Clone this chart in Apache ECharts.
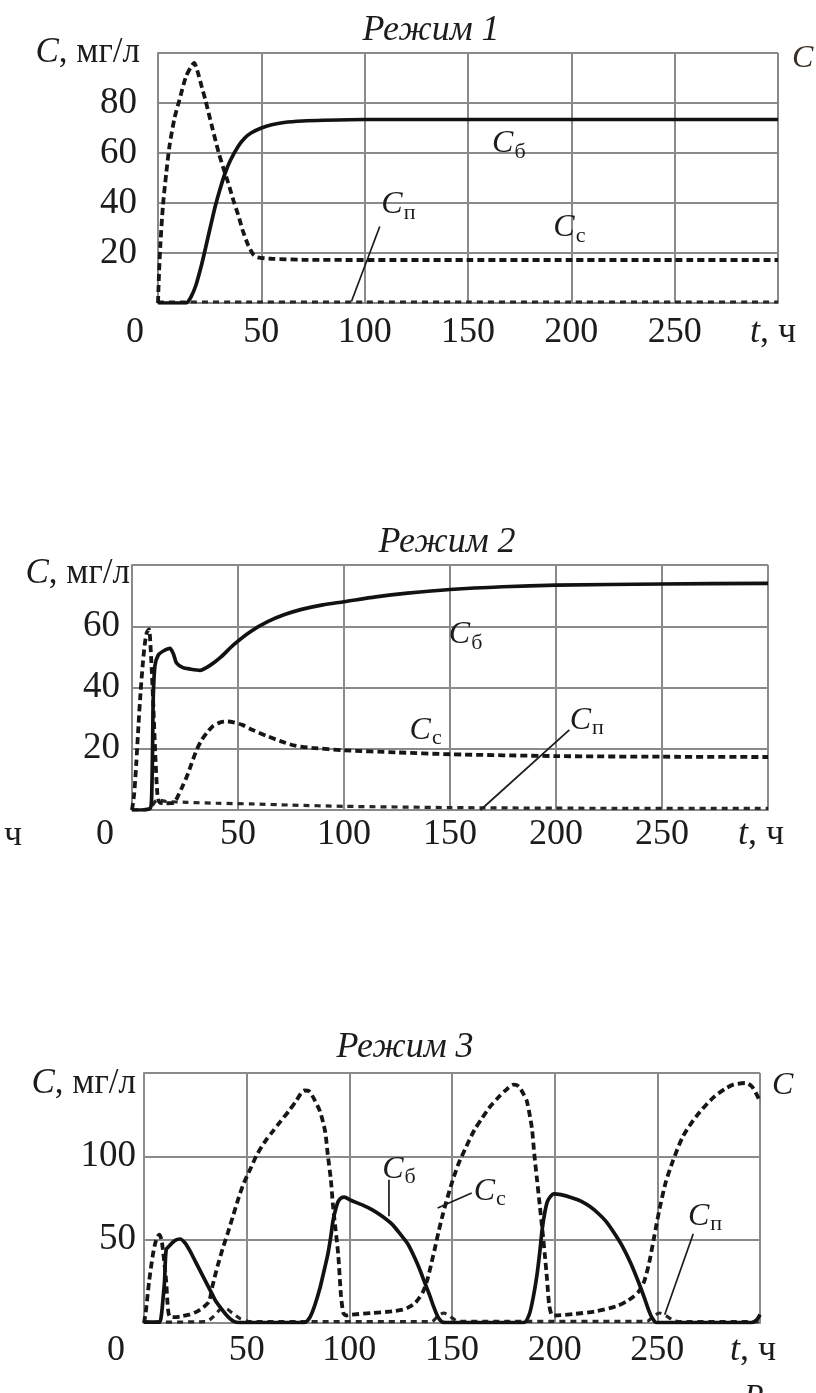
<!DOCTYPE html>
<html><head><meta charset="utf-8">
<script src="https://cdn.jsdelivr.net/npm/echarts@6/dist/echarts.min.js"></script>
<style>html,body{margin:0;padding:0;background:#fff}#c{width:816px;height:1393px}</style>
</head><body><div id="c"></div>
<script>
// ---------- text / ticks ----------
const titles = ['Режим 1', 'Режим 2', 'Режим 3'];
const xTicks = [0, 50, 100, 150, 200, 250, 300];
const xEndLabel = ['t', ', ч'];
const yUnitLabel = ['C', ', мг/л'];
const yMaxes = [100, 80, 150];
const ySteps = [20, 20, 50];
const subB = 'б', subC = 'с', subP = 'п';

// ---------- Режим 1 ----------
const mode1Cb = [[0,0],[13.5,0],[16,2.5],[18.3,7],[21,15],[23,22],[25.5,31],[27.8,39],[30,45.5],[32.5,52],[35,57],[38.9,62.8],[42,66],[45,68],[50,70],[55,71.3],[61,72.2],[70,72.8],[80,73.1],[100,73.4],[150,73.4],[200,73.4],[250,73.4],[300,73.4]];
const mode1Cc = [[0,0],[0.5,12],[1.2,24],[2.4,39],[4,52],[5.6,63],[8,74],[10.3,81],[13.5,90.5],[16,94.5],[17.5,96],[19,93],[21,87],[23,81],[26,71],[29.4,60],[32,53],[34,48],[36.5,41],[38.9,35],[41,29],[43.7,23],[46,19.5],[48,18.3],[55,17.7],[70,17.3],[100,17.2],[150,17.2],[200,17.2],[250,17.2],[300,17.2]];
const mode1Cp = [[0,0.4],[50,0.4],[100,0.4],[150,0.4],[200,0.4],[250,0.4],[300,0.4]];

// ---------- Режим 2 ----------
const mode2Cb = [[0,0],[4.5,0],[8.5,0.5],[9.2,3],[9.7,20],[10,36],[10.8,47],[12.4,50.6],[15,52],[17.9,52.8],[19.5,51],[21,48],[24,46.5],[27.5,46],[32,45.6],[37,47.3],[42,50],[48,54],[56,58.3],[64,61.5],[72,63.8],[80,65.5],[90,67],[100,68],[115,69.6],[130,70.8],[150,72],[175,72.9],[200,73.4],[250,73.8],[300,74]];
const mode2Cc = [[0,0],[1,5],[2,15],[3,27],[4,38],[5,47],[6,54],[7,58],[8,59],[9,50],[10,35],[11,18],[12,5],[13,2.5],[16,2.2],[19.5,2.3],[22,5],[24,8],[25.9,11],[28,15],[30.6,19.8],[33,23],[35.4,25.3],[38,27.3],[41.7,28.6],[45,28.9],[48,28.6],[52,27.8],[56,26.4],[63.5,24.2],[70,22.5],[77,21],[85,20.3],[100,19.5],[125,18.8],[150,18.2],[200,17.6],[250,17.4],[300,17.3]];
const mode2Cp = [[0,0],[8,0.3],[12,3.3],[16,2.8],[26,2.5],[40,2.2],[56,2],[75,1.6],[100,1.2],[150,0.8],[200,0.6],[300,0.5]];

// ---------- Режим 3 ----------
const mode3Cb = [[0,0.5],[7.5,0.5],[8.5,5],[9.3,15],[10,25],[10.8,44],[12.5,46.5],[15,49.4],[17.5,50.4],[20,48],[22.5,43],[25,37],[27.5,31],[30,25],[32.5,19],[35,13],[38,8],[40,5],[42,2.5],[44,0.8],[46,0.3],[60,0.3],[78,0.3],[80.6,3],[83,10],[85.7,21],[88,33],[89.5,41],[91,52],[92,61],[93.5,69],[94.6,73],[96,75],[97.5,75.5],[101,73.5],[106,71],[111,68],[116,64],[121,59],[125,53],[128.7,47],[131.5,40],[134,33],[136.5,25],[139,17],[141,10],[143,4],[145,0.8],[147,0.3],[170,0.3],[185,0.3],[187.6,5],[189.5,15],[191.4,29],[192.7,42],[194,57],[195.3,67],[196.5,73],[198,76],[199.5,77.5],[203,77],[208.7,75],[213,73],[217,70],[221,66],[225,61],[229,54],[233,46],[237,36],[241,24],[244,14],[246,7],[247.5,3],[249.5,0.3],[270,0.3],[296,0.3],[298.5,2],[300,5]];
const mode3Cc = [[0,0],[0.8,6],[2.5,25],[4.2,40],[5.5,48],[6.7,52],[7.5,53],[8.5,50],[9.2,44],[10,35],[10.8,25],[11.7,8],[12.5,4],[15,3.5],[18,4],[22,5],[26,7],[29,9.5],[31.7,13],[33.3,22],[35.8,34],[38.3,44.6],[40.8,54],[43.3,64],[45.8,74],[48.3,83],[52,93],[55,101],[59,109],[62.7,115],[66.5,121],[70.4,127],[74,133],[78,139.5],[80.5,139],[83,134],[85.7,127],[88.2,115],[89.5,101],[91,86],[92,71],[93.3,56],[94.6,41],[95.9,17],[97.1,6],[98.5,4.5],[101,5],[111,6],[121,7],[126,8],[129,9.5],[132,12],[134,15],[136,19],[138,26],[140,36],[141.7,45],[143.5,55],[145.5,65],[149.4,82],[153,95],[157,106],[161,116],[164.7,123],[168,129],[172.3,135],[176,139.5],[180,143],[182.5,142],[185,137],[186.5,133],[188.9,117],[190.1,101],[191.4,86],[192.7,71],[194,56],[195.2,41],[196.3,26],[197.3,11],[198.5,5],[200,4.5],[210,5.5],[220,7],[230,10],[235,13],[238,15.5],[241,19],[243.6,25],[246,36],[248.5,52],[251,68],[254,84],[257.5,97],[262.5,112],[269,124],[277,135],[283,140.5],[287,143],[293,144],[296,142],[298,138],[300,133]];
const mode3Cp = [[0,0.5],[30,0.8],[34,4],[37,8],[40,8.5],[43,6],[47,2.5],[52,0.8],[140,0.8],[143,4],[146,6],[149,4],[153,1],[245,1],[248,4],[251,6],[254,4.5],[258,1.5],[262,0.8],[300,0.8]];

// ---------- annotations (data coordinates) ----------
const mode1Notes = [[subB, 172, 63.7], [subP, 118.4, 39.3], [subC, 201.6, 30.1]];
const mode1Leaders = [[107.3, 30.6, 93.6, 0.6]];
const mode2Notes = [[subB, 159.5, 57.2], [subC, 141, 25.9], [subP, 216.5, 29.2]];
const mode2Leaders = [[206.3, 26.2, 164.4, 0]];
const mode3Notes = [[subB, 126.4, 92], [subC, 171, 78.8], [subP, 275.3, 63.8]];
const mode3Leaders = [[119.3, 86, 119.3, 64], [159.6, 78, 143, 69], [267.5, 53.5, 253.6, 5]];

// ---------- layout ----------
const FONT = '"Liberation Serif", "Times New Roman", serif';
const INK = '#1c1c1c';
const GRIDC = '#8a8a8a';
const grids = [
  {left: 158, top: 53, width: 620, height: 250},
  {left: 132, top: 565, width: 636, height: 245},
  {left: 144, top: 1073, width: 616, height: 250}
];
const xLabelCfg = [
  {margin: 12, zeroPad: 46, endPad: 10},
  {margin: 7, zeroPad: 54, endPad: 14},
  {margin: 10, zeroPad: 56, endPad: 14}
];
const yLabelCfg = [
  {margin: 18, numPad: 3, unitShift: 0},
  {margin: 2, numPad: 10, unitShift: 18},
  {margin: 8, numPad: 0, unitShift: 22}
];
const titlePos = [[431, 31], [447, 543], [405, 1048]];

const seriesSets = [
  [mode1Cp, mode1Cc, mode1Cb],
  [mode2Cp, mode2Cc, mode2Cb],
  [mode3Cp, mode3Cc, mode3Cb]
];

const xAxes = [], yAxes = [], series = [];
for (let i = 0; i < 3; i++) {
  const xl = xLabelCfg[i], yl = yLabelCfg[i];
  xAxes.push({
    gridIndex: i, type: 'value', min: xTicks[0], max: xTicks[xTicks.length - 1], interval: xTicks[1] - xTicks[0],
    axisLine: {show: true, lineStyle: {color: GRIDC, width: 2}},
    axisTick: {show: false},
    splitLine: {show: true, lineStyle: {color: GRIDC, width: 2}},
    axisLabel: {
      margin: xl.margin, color: INK, fontFamily: FONT, fontSize: 36,
      formatter: function (v) {
        if (v === xTicks[0]) return '{z|' + v + '}';
        if (v === xTicks[xTicks.length - 1]) return '{t|' + xEndLabel[0] + '}{e|' + xEndLabel[1] + '}';
        return '{n|' + v + '}';
      },
      rich: {
        n: {fontFamily: FONT, fontSize: 36, color: INK},
        z: {fontFamily: FONT, fontSize: 36, color: INK, padding: [0, xl.zeroPad, 0, 0]},
        t: {fontFamily: FONT, fontSize: 36, color: INK, fontStyle: 'italic'},
        e: {fontFamily: FONT, fontSize: 36, color: INK, padding: [0, xl.endPad, 0, 0]}
      }
    }
  });
  yAxes.push({
    gridIndex: i, type: 'value', min: 0, max: yMaxes[i], interval: ySteps[i],
    axisLine: {show: true, lineStyle: {color: GRIDC, width: 2}},
    axisTick: {show: false},
    splitLine: {show: true, lineStyle: {color: GRIDC, width: 2}},
    axisLabel: {
      margin: yl.margin, color: INK, fontFamily: FONT, fontSize: 36,
      formatter: function (v) {
        if (v === 0) return '';
        if (v === yMaxes[i]) return '{c|' + yUnitLabel[0] + '}{u|' + yUnitLabel[1] + '}';
        return '{n|' + v + '}';
      },
      rich: {
        n: {fontFamily: FONT, fontSize: 37, color: INK, padding: [0, yl.numPad, 0, 0]},
        c: {fontFamily: FONT, fontSize: 35, color: INK, fontStyle: 'italic', padding: [yl.unitShift, 0, 0, 0]},
        u: {fontFamily: FONT, fontSize: 35, color: INK, padding: [yl.unitShift, 0, 0, 0]}
      }
    }
  });
  const [cp, cc, cb] = seriesSets[i];
  series.push({
    type: 'line', xAxisIndex: i, yAxisIndex: i, data: cp, symbol: 'none', smooth: 0.25,
    lineStyle: {color: '#262626', width: 3.2, type: [6, 5]}, z: 3
  });
  series.push({
    type: 'line', xAxisIndex: i, yAxisIndex: i, data: cc, symbol: 'none', smooth: 0.25,
    lineStyle: {color: '#161616', width: 3.8, type: [7, 4]}, z: 4
  });
  series.push({
    type: 'line', xAxisIndex: i, yAxisIndex: i, data: cb, symbol: 'none', smooth: 0.25,
    lineStyle: {color: '#121212', width: 3.7, type: 'solid'}, z: 5
  });
}

const chart = echarts.init(document.getElementById('c'), null, {renderer: 'canvas', width: 816, height: 1393});
chart.setOption({
  animation: false,
  backgroundColor: '#ffffff',
  grid: grids,
  xAxis: xAxes,
  yAxis: yAxes,
  series: series
});

const notes = [mode1Notes, mode2Notes, mode3Notes];
const leaders = [mode1Leaders, mode2Leaders, mode3Leaders];
const graphics = [];
for (let i = 0; i < 3; i++) {
  graphics.push({
    type: 'text', x: titlePos[i][0], y: titlePos[i][1], z: 20,
    style: {text: titles[i], font: 'italic 36px ' + FONT, fill: INK, textAlign: 'center', textVerticalAlign: 'middle'}
  });
  notes[i].forEach(function (n) {
    const p = chart.convertToPixel({gridIndex: i}, [n[1], n[2]]);
    graphics.push({
      type: 'text', x: p[0], y: p[1], z: 20,
      style: {text: 'C', font: 'italic 32px ' + FONT, fill: INK, textAlign: 'right', textVerticalAlign: 'middle'}
    });
    graphics.push({
      type: 'text', x: p[0] + 1, y: p[1] + 8, z: 20,
      style: {text: n[0], font: '22px ' + FONT, fill: INK, textAlign: 'left', textVerticalAlign: 'middle'}
    });
  });
  leaders[i].forEach(function (l) {
    const a = chart.convertToPixel({gridIndex: i}, [l[0], l[1]]);
    const b = chart.convertToPixel({gridIndex: i}, [l[2], l[3]]);
    graphics.push({
      type: 'line', z: 20,
      shape: {x1: a[0], y1: a[1], x2: b[0], y2: b[1]},
      style: {stroke: INK, lineWidth: 1.7}
    });
  });
}
// fragments of neighbouring figures cut by the page edges
graphics.push({type: 'text', x: 792, y: 59, z: 20, style: {text: 'C', font: 'italic 32px ' + FONT, fill: '#3a3028', textAlign: 'left', textVerticalAlign: 'middle'}});
graphics.push({type: 'text', x: 4, y: 836, z: 20, style: {text: 'ч', font: '36px ' + FONT, fill: INK, textAlign: 'left', textVerticalAlign: 'middle'}});
graphics.push({type: 'text', x: 772, y: 1086, z: 20, style: {text: 'C', font: 'italic 32px ' + FONT, fill: INK, textAlign: 'left', textVerticalAlign: 'middle'}});
graphics.push({type: 'text', x: 744, y: 1382, z: 20, style: {text: 'Р', font: 'italic 32px ' + FONT, fill: INK, textAlign: 'left', textVerticalAlign: 'top'}});

chart.setOption({graphic: graphics});
</script>
</body></html>
